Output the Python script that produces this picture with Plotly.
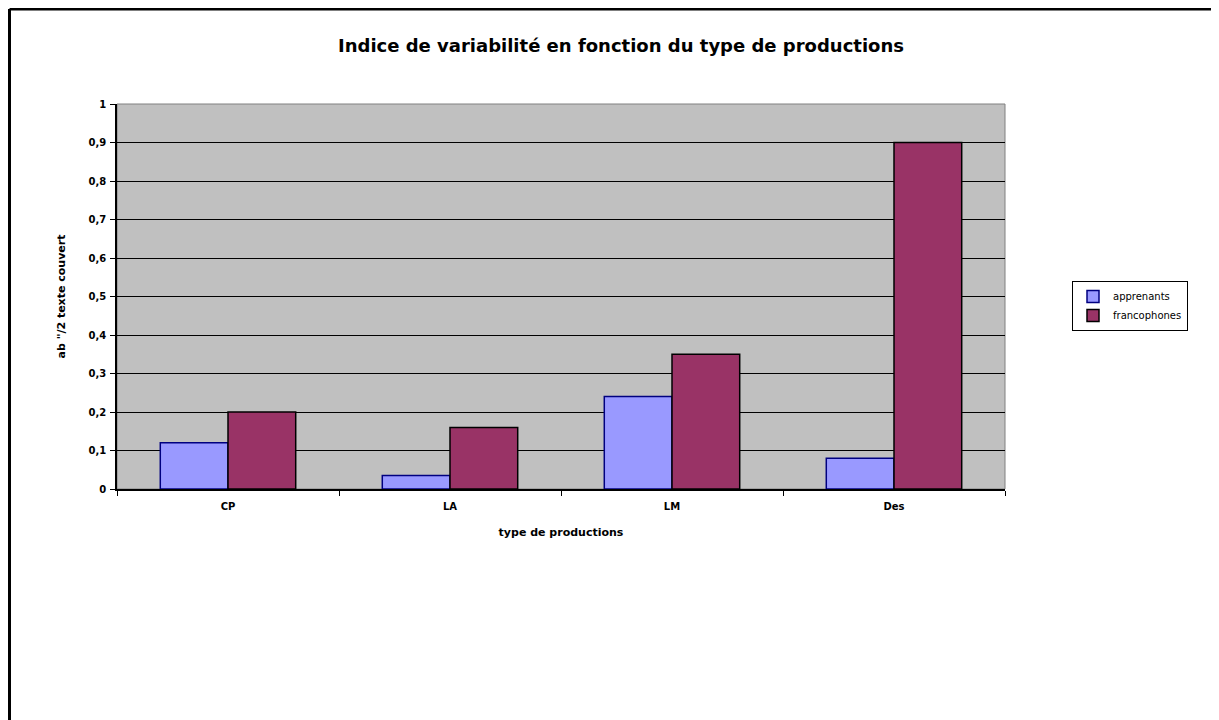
import plotly.graph_objects as go

categories = ["CP", "LA", "LM", "Des"]
apprenants = [0.12, 0.035, 0.24, 0.08]
francophones = [0.20, 0.16, 0.35, 0.90]
y_ticks = [0, 0.1, 0.2, 0.3, 0.4, 0.5, 0.6, 0.7, 0.8, 0.9, 1]
y_tick_labels = ["0", "0,1", "0,2", "0,3", "0,4", "0,5", "0,6", "0,7", "0,8", "0,9", "1"]

# the page body adds an 8px offset; work in reference pixels minus 8
OFF = 8
W, H = 1219 - OFF, 720 - OFF
L, T = 117 - OFF, 104 - OFF
R = W - (1005 - OFF)
B = H - (489 - OFF)
pw, ph = W - L - R, H - T - B

def px_x(p):
    return (p - OFF - L) / pw

def px_y(p):
    return (H - B - (p - OFF)) / ph

font_main = "DejaVu Sans"

fig = go.Figure()
fig.add_trace(go.Bar(
    x=categories, y=apprenants, name="apprenants",
    marker=dict(color="#9999FF", line=dict(color="#000080", width=1.5)),
))
fig.add_trace(go.Bar(
    x=categories, y=francophones, name="francophones",
    marker=dict(color="#993366", line=dict(color="#000000", width=1.5)),
))

fig.update_layout(
    width=W, height=H,
    margin=dict(l=L, r=R, t=T, b=B, autoexpand=False),
    paper_bgcolor="white",
    plot_bgcolor="#C0C0C0",
    barmode="group",
    bargap=0.39,
    bargroupgap=0,
    font=dict(family=font_main, size=10, color="black"),
    title=dict(
        text="<b>Indice de variabilité en fonction du type de productions</b>",
        x=(621 - OFF) / W, xanchor="center", y=1 - (46 - OFF) / H, yanchor="middle",
        font=dict(family=font_main, size=18, color="black"),
    ),
    xaxis=dict(
        showline=True, linecolor="black", linewidth=1.5,
        ticks="outside", ticklen=5, tickcolor="black", tickson="boundaries",
        ticklabelstandoff=7,
        showgrid=False,
        tickvals=categories, ticktext=[f"<b>{c}</b>" for c in categories],
        tickfont=dict(family=font_main, size=10, color="black"),
        title=dict(text="<b>type de productions</b>", standoff=18,
                   font=dict(family=font_main, size=11, color="black")),
    ),
    yaxis=dict(
        range=[0, 1], tickvals=y_ticks, ticktext=[f"<b>{t}</b>" for t in y_tick_labels],
        showline=True, linecolor="black", linewidth=1.5,
        ticks="outside", ticklen=5, tickcolor="black",
        ticklabelstandoff=2,
        showgrid=True, gridcolor="black", gridwidth=1.2,
        zeroline=False,
        tickfont=dict(family=font_main, size=10, color="black"),
        title=dict(text='<b>ab "/2 texte couvert</b>', standoff=21,
                   font=dict(family=font_main, size=11, color="black")),
    ),
    showlegend=True,
    legend=dict(
        x=px_x(1072), xanchor="left", y=px_y(281), yanchor="top",
        bgcolor="white", bordercolor="black", borderwidth=1,
        font=dict(family=font_main, size=10, color="black"),
        itemwidth=30, tracegroupgap=0,
    ),
    shapes=[
        dict(type="rect", xref="paper", yref="paper", x0=0, x1=1, y0=0, y1=1,
             line=dict(color="#808080", width=1), layer="below"),
        dict(type="line", xref="paper", yref="paper",
             x0=px_x(9.5), x1=px_x(1240), y0=px_y(9), y1=px_y(9),
             line=dict(color="black", width=3)),
        dict(type="line", xref="paper", yref="paper",
             x0=px_x(9.5), x1=px_x(9.5), y0=px_y(9), y1=px_y(740),
             line=dict(color="black", width=3)),
    ],
)

fig.write_html("out.html")
